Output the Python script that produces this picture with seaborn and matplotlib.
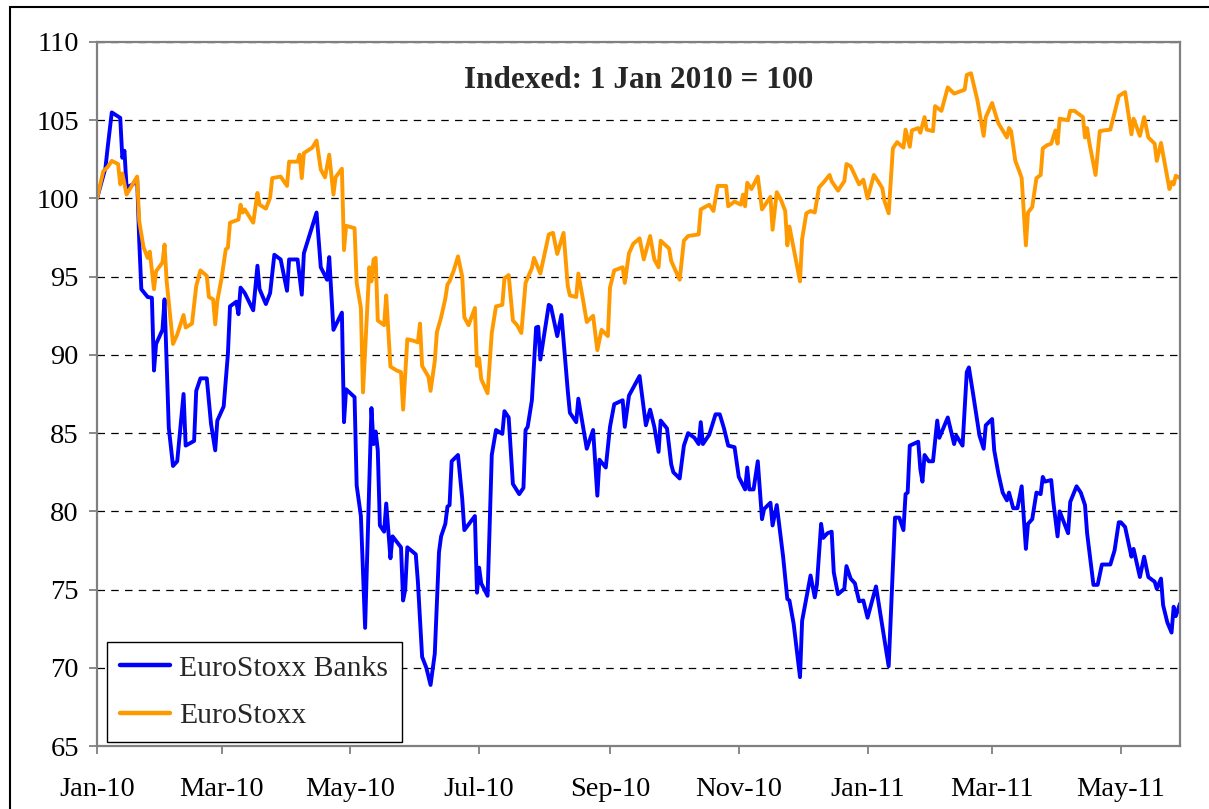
import matplotlib
matplotlib.use("Agg")
import matplotlib.pyplot as plt
import matplotlib.dates as mdates
from matplotlib.patches import Rectangle
import seaborn as sns
import pandas as pd

# days since 1 Jan 2010 and index levels (1 Jan 2010 = 100)
banks_days = [0, 4, 5, 7, 11, 12, 13, 14, 17, 19, 20, 21, 24, 26, 27, 28, 31, 32, 34, 36,
              38, 41, 42, 46, 47, 49, 52, 54, 56, 57, 60, 62, 63, 66, 67, 68, 70, 74, 76, 77,
              80, 82, 84, 87, 90, 91, 95, 97, 98, 101, 104, 106, 109, 110, 112, 116, 117, 118, 122, 123,
              125, 127, 130, 131, 132, 133, 134, 136, 137, 139, 140, 144, 145, 146, 147, 151, 152, 154, 156, 158,
              160, 162, 163, 165, 166, 167, 168, 171, 173, 174, 179, 180, 181, 182, 185, 187, 189, 192, 193, 195,
              197, 200, 202, 203, 204, 206, 208, 209, 210, 214, 215, 218, 220, 223, 224, 227, 228, 232, 235, 237,
              238, 241, 243, 245, 249, 250, 252, 257, 260, 262, 264, 266, 267, 270, 272, 273, 276, 278, 280, 283,
              285, 286, 287, 290, 293, 295, 297, 299, 302, 304, 307, 308, 309, 311, 313, 315, 316, 319, 320, 322,
              325, 327, 328, 330, 333, 334, 338, 340, 341, 343, 344, 346, 348, 349, 351, 354, 355, 357, 359, 361,
              363, 365, 369, 375, 378, 380, 382, 383, 384, 385, 389, 390, 391, 392, 394, 396, 398, 399, 403, 406,
              407, 410, 412, 413, 415, 418, 420, 421, 424, 425, 427, 429, 431, 432, 434, 436, 438, 440, 441, 443,
              445, 447, 448, 449, 452, 453, 455, 456, 460, 461, 464, 466, 468, 469, 472, 474, 476, 480, 482, 484,
              485, 487, 490, 491, 494, 496, 498, 501, 502, 504, 505, 507, 509, 510, 511, 513]
banks_vals = [100, 101.95, 103.2, 105.5, 105.15, 102.6, 103.05, 100.7, 100.9, 101.3, 97.3, 94.2, 93.7, 93.65, 89.0, 90.7, 91.6, 93.55, 85.35, 82.9,
              83.2, 87.5, 84.2, 84.5, 87.7, 88.5, 88.5, 85.6, 83.9, 85.8, 86.7, 90.05, 93.1, 93.4, 92.6, 94.3, 93.95, 92.85, 95.7, 94.2,
              93.25, 93.95, 96.4, 96.1, 94.1, 96.1, 96.1, 93.85, 96.5, 97.8, 99.1, 95.6, 94.8, 96.25, 91.6, 92.7, 85.7, 87.8, 87.3, 81.65,
              79.7, 72.55, 86.6, 84.3, 85.1, 83.9, 79.1, 78.7, 80.5, 77.0, 78.4, 77.7, 74.3, 75.0, 77.7, 77.25, 75.5, 70.7, 70.0, 68.9,
              70.9, 77.4, 78.4, 79.2, 80.3, 80.4, 83.2, 83.6, 80.8, 78.8, 79.7, 74.8, 76.4, 75.4, 74.6, 83.6, 85.2, 84.95, 86.4, 86.0,
              81.75, 81.1, 81.5, 85.2, 85.4, 87.1, 91.75, 91.8, 89.7, 93.2, 93.1, 91.2, 92.55, 87.7, 86.3, 85.7, 87.2, 84.0, 85.2, 81.0,
              83.3, 82.8, 85.4, 86.85, 87.1, 85.4, 87.4, 88.65, 85.5, 86.5, 85.4, 83.8, 85.8, 85.3, 83.0, 82.5, 82.1, 84.2, 85.0, 84.7,
              84.3, 85.7, 84.3, 84.9, 86.2, 86.2, 85.3, 84.2, 84.1, 82.2, 81.4, 82.8, 81.4, 81.4, 83.2, 79.5, 80.15, 80.55, 79.1, 80.4,
              77.1, 74.4, 74.3, 72.8, 69.4, 73.0, 75.9, 74.5, 75.3, 79.2, 78.3, 78.6, 78.7, 76.1, 74.7, 75.05, 76.5, 75.7, 75.4, 74.25,
              74.3, 73.2, 75.2, 70.1, 79.6, 79.6, 78.8, 81.1, 81.2, 84.2, 84.45, 82.7, 81.9, 83.6, 83.2, 83.2, 85.8, 84.7, 86.0, 84.3,
              84.85, 84.2, 88.9, 89.2, 87.5, 84.85, 84.0, 85.5, 85.9, 83.9, 82.4, 81.2, 80.7, 81.2, 80.2, 80.2, 81.6, 77.6, 79.2, 79.5,
              81.2, 81.1, 82.2, 81.9, 82.0, 80.6, 78.4, 80.0, 78.6, 80.6, 81.6, 81.2, 80.4, 78.6, 75.3, 75.3, 76.6, 76.6, 77.5, 79.3,
              79.3, 79.0, 77.1, 77.6, 75.8, 77.1, 75.8, 75.5, 75.05, 75.7, 74.0, 72.9, 72.25, 73.9, 73.3, 74.1]

stoxx_days = [0, 3, 5, 7, 10, 11, 12, 14, 16, 19, 20, 22, 24, 25, 27, 28, 31, 32, 33, 36,
              38, 41, 42, 45, 47, 49, 52, 53, 55, 56, 57, 59, 61, 62, 63, 67, 68, 69, 70, 74,
              76, 77, 80, 82, 83, 87, 90, 91, 95, 96, 97, 98, 102, 104, 106, 108, 110, 112, 113, 116,
              117, 118, 122, 123, 125, 126, 129, 130, 131, 132, 133, 136, 137, 139, 142, 144, 145, 147, 150, 152,
              153, 154, 157, 158, 160, 161, 163, 165, 166, 167, 169, 171, 173, 174, 176, 179, 180, 181, 182, 185,
              187, 189, 192, 193, 195, 197, 199, 201, 203, 206, 207, 210, 214, 216, 218, 221, 223, 224, 227, 228,
              230, 232, 235, 237, 239, 242, 243, 245, 249, 250, 252, 254, 257, 259, 262, 264, 266, 267, 271, 272,
              276, 278, 280, 285, 286, 290, 292, 294, 298, 299, 302, 305, 306, 307, 308, 310, 313, 315, 317, 319,
              320, 322, 324, 326, 327, 328, 333, 334, 336, 338, 340, 342, 344, 347, 348, 351, 354, 355, 357, 361,
              363, 365, 368, 370, 372, 373, 375, 377, 379, 382, 383, 385, 386, 389, 390, 392, 393, 396, 397, 400,
              403, 406, 411, 412, 414, 417, 420, 421, 424, 426, 427, 429, 431, 432, 433, 435, 437, 438, 440, 441,
              443, 445, 447, 448, 450, 452, 454, 455, 456, 460, 461, 463, 467, 468, 469, 470, 473, 475, 477, 480,
              484, 487, 490, 491, 494, 496, 498, 501, 502, 504, 508, 509, 510, 511, 513]
stoxx_vals = [100, 101.75, 102.0, 102.4, 102.2, 100.9, 101.6, 100.25, 100.7, 101.4, 98.55, 96.9, 96.2, 96.6, 94.2, 95.35, 95.9, 97.05, 94.7, 90.7,
              91.3, 92.55, 91.75, 92.0, 94.4, 95.4, 95.05, 93.7, 93.55, 91.95, 93.45, 94.9, 96.75, 96.85, 98.45, 98.65, 99.6, 99.1, 99.3, 98.45,
              100.35, 99.6, 99.35, 100.05, 101.3, 101.4, 100.8, 102.35, 102.35, 102.8, 101.3, 102.9, 103.25, 103.7, 101.85, 101.35, 102.8, 100.25, 101.35, 101.9,
              96.7, 98.25, 98.1, 94.6, 93.0, 87.6, 95.6, 94.7, 96.1, 96.2, 92.2, 91.9, 93.8, 89.25, 89.0, 88.9, 86.5, 91.0, 90.9, 90.8,
              92.0, 89.3, 88.6, 87.7, 89.6, 91.45, 92.4, 93.6, 94.5, 94.7, 95.4, 96.3, 95.0, 92.4, 91.9, 93.0, 89.3, 89.8, 88.45, 87.55,
              91.4, 93.1, 93.2, 94.9, 95.1, 92.2, 91.9, 91.4, 94.6, 95.55, 96.2, 95.2, 97.7, 97.8, 96.45, 97.8, 94.4, 93.8, 93.7, 95.2,
              93.7, 92.1, 92.5, 90.3, 91.6, 91.2, 94.3, 95.4, 95.6, 94.6, 96.5, 97.1, 97.45, 96.1, 97.6, 96.1, 95.6, 97.3, 96.8, 96.0,
              94.8, 97.3, 97.6, 97.7, 99.3, 99.6, 99.2, 100.8, 100.8, 99.5, 99.8, 99.6, 100.25, 99.5, 101.0, 100.6, 101.4, 99.3, 99.7, 100.1,
              98.0, 100.4, 99.9, 99.2, 97.0, 98.2, 94.7, 97.4, 99.05, 99.2, 99.1, 100.7, 101.0, 101.5, 101.1, 100.5, 101.1, 102.2, 102.05, 100.9,
              101.2, 100.0, 101.5, 101.1, 100.65, 99.85, 99.05, 103.2, 103.6, 103.25, 104.4, 103.3, 104.35, 104.5, 104.2, 105.2, 104.4, 104.3, 105.9, 105.6,
              107.1, 106.7, 106.95, 107.9, 108.0, 106.3, 104.0, 105.2, 106.1, 105.2, 104.8, 104.35, 103.9, 104.5, 104.3, 102.4, 101.7, 101.3, 97.0, 99.1,
              99.45, 101.3, 101.5, 103.2, 103.4, 103.5, 104.35, 103.5, 105.1, 105.0, 105.6, 105.6, 105.2, 103.9, 104.5, 103.6, 101.5, 104.3, 104.35, 104.4,
              106.55, 106.8, 104.1, 105.1, 104.0, 105.2, 103.9, 103.5, 102.4, 103.55, 100.6, 101.05, 100.9, 101.45, 101.3]

series_names = ["EuroStoxx Banks", "EuroStoxx"]
series_colors = ["#0000FF", "#FF9900"]
y_ticks = [65, 70, 75, 80, 85, 90, 95, 100, 105, 110]
title = "Indexed: 1 Jan 2010 = 100"

start = pd.Timestamp("2010-01-01")
df = pd.concat([
    pd.DataFrame({"date": start + pd.to_timedelta(banks_days, unit="D"),
                  "value": banks_vals, "series": series_names[0]}),
    pd.DataFrame({"date": start + pd.to_timedelta(stoxx_days, unit="D"),
                  "value": stoxx_vals, "series": series_names[1]}),
], ignore_index=True)

sns.set_theme(style="white")
plt.rcParams["font.family"] = ["Liberation Serif", "DejaVu Serif"]

fig = plt.figure(figsize=(12.09, 8.09), dpi=100)
ax = fig.add_axes([97 / 1209, 1 - 746 / 809, (1180 - 97) / 1209, (746 - 42) / 809])

sns.lineplot(data=df, x="date", y="value", hue="series", hue_order=series_names,
             palette=dict(zip(series_names, series_colors)), estimator=None,
             linewidth=2.8, ax=ax)

ax.set_ylim(65, 110)
ax.set_yticks(y_ticks)
ax.set_xlim(start, start + pd.Timedelta(days=max(banks_days)))
ax.xaxis.set_major_locator(mdates.MonthLocator(bymonth=[1, 3, 5, 7, 9, 11]))
ax.xaxis.set_major_formatter(mdates.DateFormatter("%b-%y"))
ax.set_xlabel("")
ax.set_ylabel("")

# dashed horizontal gridlines
ax.yaxis.grid(True, linestyle=(0, (6, 5)), color="black", linewidth=0.9)
ax.set_axisbelow(True)

for s in ax.spines.values():
    s.set_color("#808080")
    s.set_linewidth(1.6)
    s.set_zorder(5)

ax.tick_params(axis="both", which="major", direction="out", length=6, width=1.3,
               color="#808080", labelsize=20.5, labelcolor="black")
ax.tick_params(axis="x", pad=16, bottom=True)
ax.tick_params(axis="y", pad=7, left=True)

ax.text(0.5, 0.945, title, transform=ax.transAxes, ha="center", va="center",
        fontsize=22.5, fontweight="bold")

handles, labels = ax.get_legend_handles_labels()
leg = ax.legend(handles, labels, loc="lower left", bbox_to_anchor=(0.009, 0.005),
                fontsize=21.3, frameon=True, fancybox=False, framealpha=1,
                edgecolor="black", handlelength=1.7, handletextpad=0.3,
                labelspacing=0.7, borderpad=0.45, borderaxespad=0)
leg.get_frame().set_linewidth(1.0)
for line in leg.get_lines():
    line.set_linewidth(3.2)

# outer chart border (left and top visible)
fig.add_artist(Rectangle((10 / 1209, -0.1), 1.2, 1 - 7 / 809 + 0.1,
                         transform=fig.transFigure, fill=False,
                         edgecolor="black", linewidth=1.5))

fig.savefig("out.png", dpi=100)
